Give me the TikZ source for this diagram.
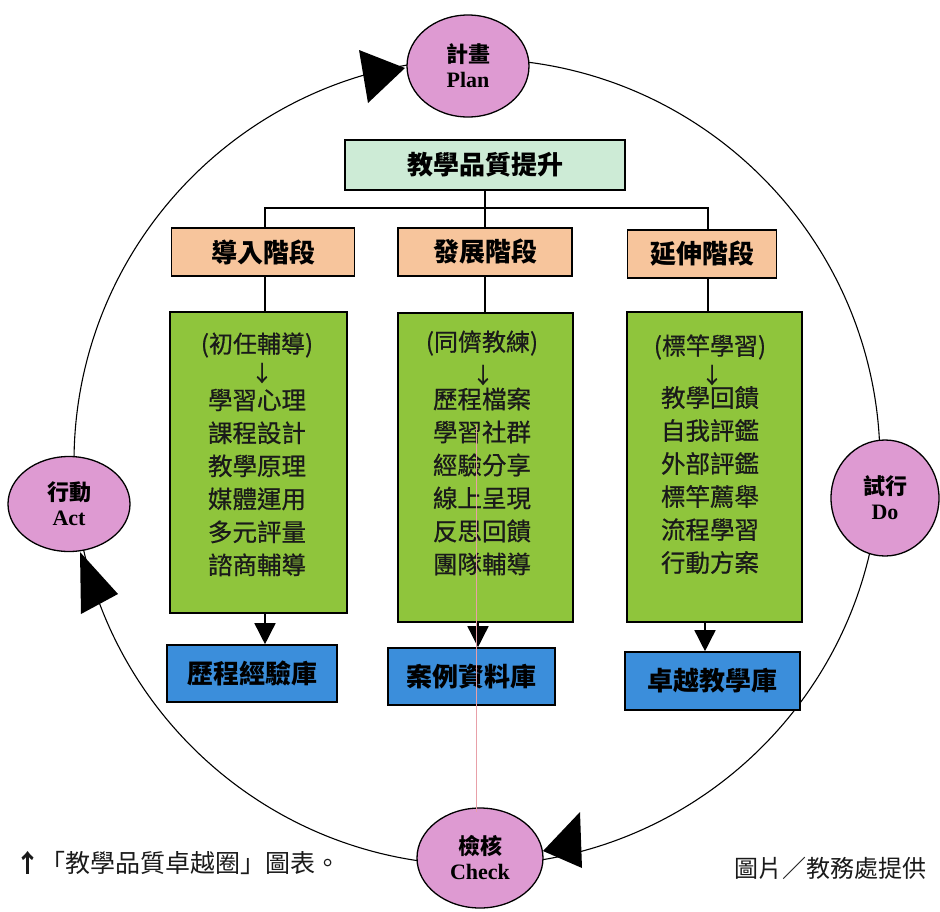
\documentclass[tikz,border=0pt]{standalone}
\usepackage{fontspec}
\setmainfont{Liberation Serif}
\newfontfamily\cjk{Noto Sans CJK TC}
\newfontfamily\cjkm[FakeBold=0.7]{Noto Sans CJK TC}
\usetikzlibrary{shapes.geometric,arrows.meta,calc}
\definecolor{titlefill}{HTML}{CDEBD6}
\definecolor{stagefill}{HTML}{F7C59C}
\definecolor{colfill}{HTML}{8FC53C}
\definecolor{libfill}{HTML}{3B8EDB}
\definecolor{pdcafill}{HTML}{DE9AD2}
\definecolor{inkc}{HTML}{1A1A1A}
\definecolor{streak}{HTML}{E8A0A8}
\tikzset{
  ring/.style={draw=black, line width=1.1pt},
  pdca/.style={ellipse, draw=black, line width=1.3pt, fill=pdcafill, inner sep=0,
    align=center, font=\fontsize{22}{25}\selectfont\bfseries},
  boxbase/.style={draw=black, line width=1.6pt, inner sep=0,
    font=\cjk\bfseries\fontsize{26}{26}\selectfont},
  titlebox/.style={boxbase, fill=titlefill},
  stagebox/.style={boxbase, fill=stagefill},
  colbox/.style={draw=black, line width=1.6pt, fill=colfill},
  libbox/.style={boxbase, fill=libfill},
  coltext/.style={inner sep=0, align=center, text=inkc,
    font=\cjkm\fontsize{24.5}{33}\selectfont},
  parentext/.style={inner sep=0, text=inkc, font=\cjkm\fontsize{24}{24}\selectfont},
  arrowtext/.style={inner sep=0, text=inkc, font=\cjkm\fontsize{22}{22}\selectfont},
  link/.style={draw=black, line width=1.5pt},
  downarr/.style={link, -{Triangle[length=21pt,width=21pt]}},
  tri/.style={fill=black},
  captext/.style={inner sep=0, text=inkc, font=\cjk\fontsize{25}{25}\selectfont}
}
\begin{document}
\begin{tikzpicture}[x=1pt,y=-1pt]
\useasboundingbox (0,0) rectangle (940,911);
\fill[white] (0,0) rectangle (940,911);

% cycle ring
\draw[ring] (477,462) circle (403);

% boxes
\node[titlebox, minimum width=280, minimum height=50] (top) at (485,165) {教學品質提升};
\node[stagebox, minimum width=183, minimum height=48] (s1) at (263,252) {導入階段};
\node[stagebox, minimum width=174, minimum height=48] (s2) at (485,252) {發展階段};
\node[stagebox, minimum width=149, minimum height=48] (s3) at (702,254) {延伸階段};

\node[colbox, minimum width=177, minimum height=301] (g1) at (258.5,462.5) {};
\node[colbox, minimum width=175, minimum height=309] (g2) at (485.5,467.5) {};
\node[colbox, minimum width=175, minimum height=310] (g3) at (714.5,467) {};

\node[libbox, minimum width=170, minimum height=57] (l1) at (252,673.5) {歷程經驗庫};
\node[libbox, minimum width=167, minimum height=57] (l2) at (471.5,676.5) {案例資料庫};
\node[libbox, minimum width=175, minimum height=58] (l3) at (712.5,681) {卓越教學庫};

% column texts
\node[parentext] (p1) at (257,345) {(初任輔導)};
\node[arrowtext] (a1) at (262,373) {↓};
\node[coltext] (t1) at (257,482.5) {學習心理\\課程設計\\教學原理\\媒體運用\\多元評量\\諮商輔導};

\node[parentext] (p2) at (482,343) {(同儕教練)};
\node[arrowtext] (a2) at (483,375) {↓};
\node[coltext] (t2) at (482,481.5) {歷程檔案\\學習社群\\經驗分享\\線上呈現\\反思回饋\\團隊輔導};

\node[parentext] (p3) at (710,347) {(標竿學習)};
\node[arrowtext] (a3) at (712,375) {↓};
\node[coltext] (t3) at (710,480) {教學回饋\\自我評鑑\\外部評鑑\\標竿薦舉\\流程學習\\行動方案};

% tree connectors
\coordinate (hub) at (485,208);
\draw[link] (top.south) -- (hub);
\draw[link] (hub) -| ($(s1.north)+(2,0)$);
\draw[link] (hub) -- (s2.north);
\draw[link] (hub) -| ($(s3.north)+(6,0)$);
\draw[link] ($(s1.south)+(2,0)$) -- ($(s1.south |- g1.north)+(2,0)$);
\draw[link] (s2.south) -- (s2.south |- g2.north);
\draw[link] ($(s3.south)+(6,0)$) -- ($(s3.south |- g3.north)+(6,0)$);

% down arrows to libraries
\draw[downarr] ($(g1.south -| s1.south)+(2,0)$) -- ($(l1.north -| s1.south)+(2,0)$);
\draw[downarr] ($(g2.south -| s2.south)+(-7,0)$) -- ($(l2.north -| s2.south)+(-7,0)$);
\draw[downarr] ($(g3.south -| s3.south)+(3,0)$) -- ($(l3.north -| s3.south)+(3,0)$);

% PDCA nodes
\node[pdca, minimum width=122, minimum height=102] (plan) at (468,66)
  {{\cjk 計畫}\\Plan};
\node[pdca, minimum width=122, minimum height=95] (act) at (69,504)
  {{\cjk 行動}\\Act};
\node[pdca, minimum width=108, minimum height=116] (do) at (885,498)
  {{\cjk 試行}\\Do};
\node[pdca, minimum width=126, minimum height=100] (chk) at (480,858)
  {{\cjk 檢核}\\Check};

% faint streak
\draw[streak, line width=0.7pt] (476,425) -- (476,812);

% ring arrowheads
\fill[tri] (405,68) -- (359,50) -- (368,103) -- cycle;
\fill[tri] (80,552) -- (118,594) -- (81,614) -- cycle;
\fill[tri] (543,851) -- (580,812) -- (582,868) -- cycle;

% captions
\node[captext, anchor=west] (cap1) at (15,863) {{\bfseries ↑}「教學品質卓越圈」圖表。};
\node[captext, anchor=east, font=\cjk\fontsize{24}{24}\selectfont] (cap2) at (927,868) {圖片／教務處提供};
\end{tikzpicture}
\end{document}
